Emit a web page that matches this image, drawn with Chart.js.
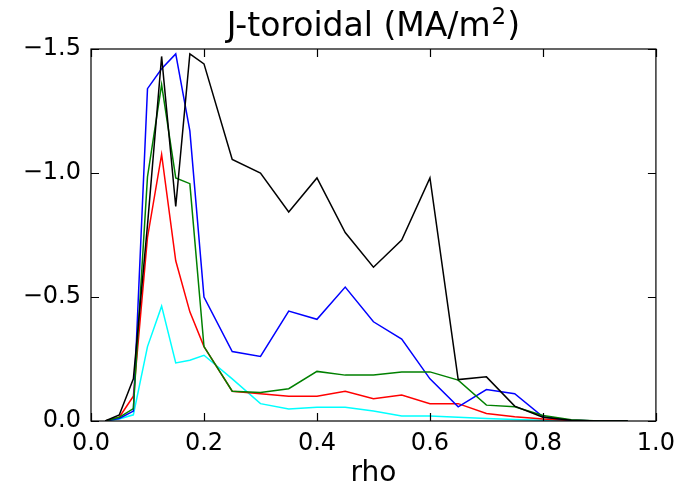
<!DOCTYPE html>
<html>
<head>
<meta charset="utf-8">
<script src="https://cdn.jsdelivr.net/npm/chart.js@4/dist/chart.umd.min.js"></script>
<style>
    html, body { margin: 0; padding: 0; background: #fff; }
    #wrap { width: 683px; height: 494px; }
</style>
</head>
<body>
<div id="wrap"><canvas id="jtorChart" width="683" height="494"></canvas></div>
<script>
// rho grid
const rho = [0.025, 0.05, 0.075, 0.1, 0.125, 0.15, 0.175, 0.2, 0.25, 0.3, 0.35, 0.4,
             0.45, 0.5, 0.55, 0.6, 0.65, 0.7, 0.75, 0.8, 0.85, 0.9, 0.95];

// J-toroidal series (MA/m^2)
const jBlack = [0, -0.024, -0.17, -0.79, -1.47, -0.865, -1.48, -1.44, -1.055, -1.0, -0.843, -0.98,
                -0.76, -0.62, -0.73, -0.98, -0.167, -0.178, -0.06, -0.015, -0.003, 0, 0];
const jBlue  = [0, -0.01, -0.04, -1.34, -1.42, -1.48, -1.17, -0.50, -0.28, -0.26, -0.443, -0.41,
                -0.54, -0.40, -0.33, -0.17, -0.057, -0.127, -0.11, -0.017, -0.003, 0, 0];
const jGreen = [0, -0.015, -0.05, -0.985, -1.356, -0.98, -0.957, -0.30, -0.12, -0.115, -0.13, -0.20,
                -0.185, -0.185, -0.198, -0.198, -0.165, -0.064, -0.057, -0.022, -0.005, 0, 0];
const jRed   = [0, -0.015, -0.1, -0.74, -1.075, -0.646, -0.44, -0.30, -0.12, -0.11, -0.10, -0.10,
                -0.12, -0.09, -0.105, -0.07, -0.07, -0.03, -0.017, -0.008, -0.002, 0, 0];
const jCyan  = [0, -0.008, -0.025, -0.30, -0.463, -0.234, -0.245, -0.265, -0.17, -0.07, -0.048, -0.055,
                -0.055, -0.04, -0.02, -0.02, -0.015, -0.01, -0.006, -0.003, -0.001, 0, 0];

// tick labels
const xTicks = [0.0, 0.2, 0.4, 0.6, 0.8, 1.0];
const yTicks = [-1.5, -1.0, -0.5, 0.0];

const FONT = 'DejaVu Sans';

function toPoints(ys) {
    return ys.map((y, i) => ({ x: rho[i], y: y }));
}

function series(ys, color) {
    return {
        data: toPoints(ys),
        borderColor: color,
        borderWidth: 1.5,
        pointRadius: 0,
        fill: false,
        tension: 0
    };
}

function fmt(v) {
    return v.toFixed(1).replace('-', '\u2212');
}

// matplotlib-style frame with inward ticks, title with superscript, x label
const frameTicks = {
    id: 'frameTicks',
    afterDraw(chart) {
        const ctx = chart.ctx;
        const a = chart.chartArea;
        const xs = chart.scales.x, ys = chart.scales.y;
        ctx.save();
        ctx.strokeStyle = '#000';
        ctx.lineWidth = 1.2;
        ctx.strokeRect(a.left, a.top, a.right - a.left, a.bottom - a.top);
        ctx.beginPath();
        xTicks.forEach(v => {
            const px = Math.round(xs.getPixelForValue(v)) + 0.5;
            ctx.moveTo(px, a.bottom); ctx.lineTo(px, a.bottom - 8);
            ctx.moveTo(px, a.top); ctx.lineTo(px, a.top + 8);
        });
        yTicks.forEach(v => {
            const py = Math.round(ys.getPixelForValue(v)) + 0.5;
            ctx.moveTo(a.left, py); ctx.lineTo(a.left + 8, py);
            ctx.moveTo(a.right, py); ctx.lineTo(a.right - 8, py);
        });
        ctx.stroke();

        // title: "J-toroidal (MA/m" + superscript 2 + ")"
        const cx = (a.left + a.right) / 2;
        const main = 'J-toroidal (MA/m';
        ctx.fillStyle = '#000';
        ctx.textBaseline = 'alphabetic';
        ctx.textAlign = 'left';
        ctx.font = '33px "' + FONT + '"';
        const w1 = ctx.measureText(main).width;
        const w3 = ctx.measureText(')').width;
        ctx.font = '23px "' + FONT + '"';
        const w2 = ctx.measureText('2').width + 2;
        let x0 = cx - (w1 + w2 + w3) / 2;
        ctx.font = '33px "' + FONT + '"';
        ctx.fillText(main, x0, 36);
        ctx.font = '23px "' + FONT + '"';
        ctx.fillText('2', x0 + w1 + 1, 24);
        ctx.font = '33px "' + FONT + '"';
        ctx.fillText(')', x0 + w1 + w2, 36);

        // x label
        ctx.textAlign = 'center';
        ctx.font = '28px "' + FONT + '"';
        ctx.fillText('rho', cx, 481);
        ctx.restore();
    }
};

new Chart(document.getElementById('jtorChart'), {
    type: 'line',
    data: {
        datasets: [
            series(jBlack, '#000000'),
            series(jGreen, '#008000'),
            series(jBlue, '#0000ff'),
            series(jRed, '#ff0000'),
            series(jCyan, '#00ffff')
        ]
    },
    options: {
        responsive: false,
        animation: false,
        layout: { padding: { right: 26, left: 0, bottom: 0, top: 49 } },
        plugins: {
            legend: { display: false },
            tooltip: { enabled: false },
            title: { display: false }
        },
        scales: {
            x: {
                type: 'linear',
                min: 0, max: 1,
                afterFit: s => { s.height = 73; },
                afterBuildTicks: s => { s.ticks = xTicks.map(v => ({ value: v })); },
                grid: { display: false, drawTicks: false },
                border: { display: false },
                ticks: {
                    color: '#000',
                    padding: 8,
                    font: { family: FONT, size: 24 },
                    callback: v => fmt(v)
                }
            },
            y: {
                type: 'linear',
                min: -1.5, max: 0,
                reverse: true,
                afterFit: s => { s.width = 91; },
                afterBuildTicks: s => { s.ticks = yTicks.map(v => ({ value: v })); },
                grid: { display: false, drawTicks: false },
                border: { display: false },
                ticks: {
                    color: '#000',
                    padding: 10,
                    font: { family: FONT, size: 24 },
                    callback: v => fmt(v)
                }
            }
        }
    },
    plugins: [frameTicks]
});
</script>
</body>
</html>
